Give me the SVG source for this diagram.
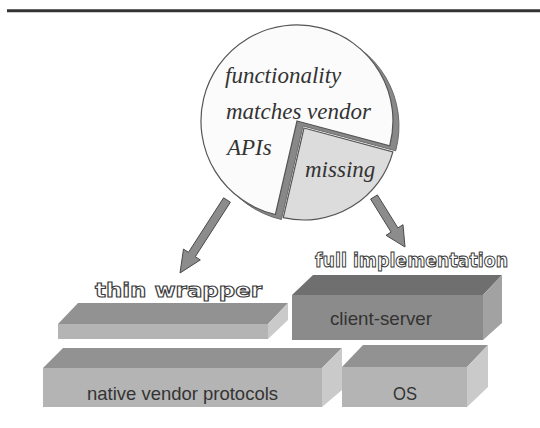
<svg xmlns="http://www.w3.org/2000/svg" width="540" height="428" viewBox="0 0 540 428">
<style>
.pie{font-family:"Liberation Serif",serif;font-style:italic;font-size:23px;fill:#333}
.lbl{font-family:"Liberation Sans",Arial,sans-serif;font-size:18.5px;fill:#333}
.out{font-family:"DejaVu Sans",sans-serif;font-weight:bold;font-size:20px;fill:#fff;stroke:#3a3a3a;stroke-width:1.1}
.arrow{fill:#8c8c8c;stroke:#4a4a4a;stroke-width:1;stroke-linejoin:round}
.edge{stroke:#e8e8e8;stroke-width:0.6}
</style>
<rect width="540" height="428" fill="#fff"/>
<line x1="7" y1="10.7" x2="540" y2="10.7" stroke="#333" stroke-width="3"/>

<g id="pie">
  <path d="M304,128 L392.9,151.8 A92,92 0 0 1 283.3,217.6 Z" fill="#dcdcdc" stroke="#555" stroke-width="1.2"/>
  <path d="M303,126 L395.7,150.8 A96,96 0 1 0 281.4,219.5 Z" fill="#888" stroke="#6a6a6a" stroke-width="1"/>
  <path d="M297,121 L389.7,145.8 A96,96 0 1 0 275.4,214.5 Z" fill="#fbfbfb" stroke="#555" stroke-width="1.2"/>
  <text class="pie" x="225" y="83">functionality</text>
  <text class="pie" x="226" y="119">matches vendor</text>
  <text class="pie" x="227" y="155">APIs</text>
  <text class="pie" x="305" y="177">missing</text>
</g>

<g id="connectors">
  <polygon class="arrow" points="230.4,202.2 195.3,256.7 200.3,259.9 180,273 183.5,249.1 188.5,252.3 223.6,197.8"/>
  <polygon class="arrow" points="377.4,194.9 397.9,227.9 403,224.7 405,247 386,235.3 391.1,232.1 370.6,199.1"/>
</g>

<g id="thin-wrapper">
  <polygon points="58,324 78,303 288,303 268,324" fill="#929292"/>
  <rect x="58" y="324" width="210" height="15" fill="#b4b4b4"/>
  <polygon points="268,324 288,303 288,320 268,339" fill="#cacaca"/>
  <text class="out" x="95" y="297" textLength="167" lengthAdjust="spacingAndGlyphs">thin wrapper</text>
</g>

<g id="client-server">
  <polygon points="292,295 313,275 502,275 483,295" fill="#6f6f6f"/>
  <rect x="292" y="295" width="191" height="45" fill="#8b8b8b"/>
  <polygon points="483,295 502,275 502,323 483,340" fill="#a2a2a2"/>
  <text class="lbl" x="330" y="325" textLength="102" lengthAdjust="spacingAndGlyphs">client-server</text>
  <text class="out" x="315" y="267" textLength="193" lengthAdjust="spacingAndGlyphs">full implementation</text>
</g>

<g id="native-vendor-protocols">
  <polygon points="43,368 63,348 342,348 322,368" fill="#929292"/>
  <rect x="43" y="368" width="279" height="39" fill="#b4b4b4"/>
  <polygon points="322,368 342,348 342,390 322,407" fill="#cacaca"/>
  <text class="lbl" x="87" y="400" textLength="191" lengthAdjust="spacingAndGlyphs">native vendor protocols</text>
</g>

<g id="os">
  <polygon points="342,367 363,345 488,345 467,367" fill="#929292"/>
  <rect x="342" y="367" width="125" height="40" fill="#b4b4b4"/>
  <polygon points="467,367 488,345 488,387 467,407" fill="#cacaca"/>
  <text class="lbl" x="393" y="400" textLength="24" lengthAdjust="spacingAndGlyphs">OS</text>
</g>
</svg>
